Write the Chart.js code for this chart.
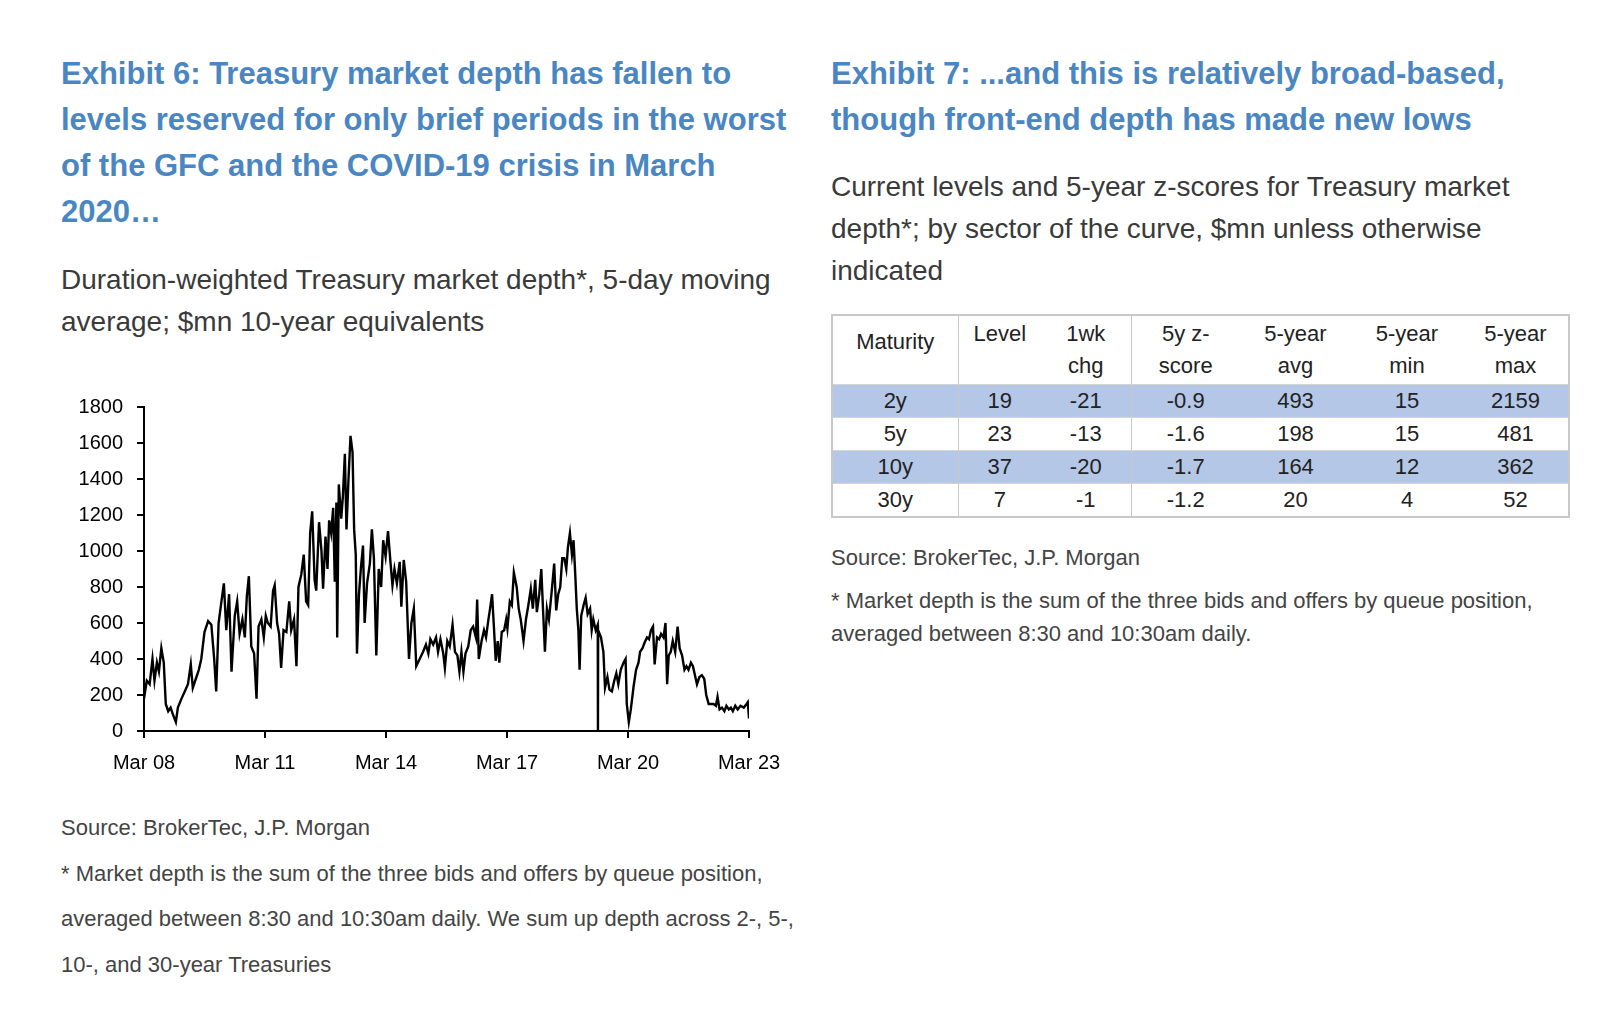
<!DOCTYPE html>
<html>
<head>
<meta charset="utf-8">
<script src="https://cdn.jsdelivr.net/npm/chart.js@4.4.1/dist/chart.umd.min.js"></script>
<style>
  html, body { margin: 0; padding: 0; background: #fff; }
  body { width: 1606px; height: 1018px; position: relative; overflow: hidden;
         font-family: "Liberation Sans", Arial, Helvetica, sans-serif; }
  .abs { position: absolute; white-space: nowrap; }
  .title { color: #4a86c2; font-weight: bold; font-size: 31px; line-height: 46px; }
  .sub { color: #3a3a3a; font-size: 28px; line-height: 42px; }
  .note { color: #444; font-size: 22px; }
  #chartBox { position: absolute; left: 60px; top: 381px; width: 740px; height: 399px; }
  table { position: absolute; left: 831px; top: 314px; width: 737px; border-collapse: collapse;
          border: 2px solid #c8c8c8; font-size: 22px; color: #222; table-layout: fixed; }
  td { text-align: center; padding: 0; height: 32px; line-height: 32px; border-bottom: 1px solid #d4d4d4; }
  thead td { vertical-align: top; height: 66px; padding-top: 2px; line-height: 32px; }
  thead td.mat { padding-top: 10px; height: 58px; }
  .sep { border-right: 1px solid #c8c8c8; }
  tr.hl td { background: #b4c7e7; }
</style>
</head>
<body>
<div class="abs title" style="left:61px; top:51px;">Exhibit 6: Treasury market depth has fallen to<br>levels reserved for only brief periods in the worst<br>of the GFC and the COVID-19 crisis in March<br>2020…</div>
<div class="abs sub" style="left:61px; top:259px;">Duration-weighted Treasury market depth*, 5-day moving<br>average; $mn 10-year equivalents</div>
<div id="chartBox"><canvas id="depth-chart"></canvas></div>
<div class="abs note" style="left:61px; top:805px; line-height:45.5px;">Source: BrokerTec, J.P. Morgan<br>* Market depth is the sum of the three bids and offers by queue position,<br>averaged between 8:30 and 10:30am daily. We sum up depth across 2-, 5-,<br>10-, and 30-year Treasuries</div>

<div class="abs title" style="left:831px; top:51px;">Exhibit 7: ...and this is relatively broad-based,<br>though front-end depth has made new lows</div>
<div class="abs sub" style="left:831px; top:166px;">Current levels and 5-year z-scores for Treasury market<br>depth*; by sector of the curve, $mn unless otherwise<br>indicated</div>
<table id="depth-table">
  <colgroup>
    <col style="width:126px"><col style="width:83px"><col style="width:90px"><col style="width:109px">
    <col style="width:111px"><col style="width:112px"><col style="width:106px">
  </colgroup>
  <thead><tr id="head-row"></tr></thead>
  <tbody id="table-body"></tbody>
</table>
<div class="abs note" style="left:831px; top:536px; line-height:44px;">Source: BrokerTec, J.P. Morgan</div>
<div class="abs note" style="left:831px; top:585px; line-height:32.5px;">* Market depth is the sum of the three bids and offers by queue position,<br>averaged between 8:30 and 10:30am daily.</div>

<script>
// Exhibit 6: duration-weighted depth, days after Mar 08 and $mn values
const dayOffsets = [
  0.00,0.07,0.14,0.21,0.26,0.32,0.37,0.43,0.49,0.54,
  0.60,0.66,0.72,0.79,0.84,0.93,1.01,1.09,1.16,1.21,
  1.30,1.36,1.42,1.50,1.59,1.67,1.74,1.79,1.85,1.92,
  1.98,2.04,2.11,2.17,2.25,2.31,2.37,2.44,2.50,2.55,
  2.60,2.66,2.73,2.79,2.84,2.91,2.97,3.02,3.07,3.14,
  3.20,3.24,3.30,3.35,3.40,3.46,3.53,3.60,3.65,3.72,
  3.78,3.83,3.90,3.96,4.02,4.07,4.12,4.17,4.23,4.27,
  4.34,4.40,4.44,4.50,4.55,4.59,4.64,4.69,4.73,4.77,
  4.79,4.83,4.89,4.93,4.98,5.02,5.07,5.12,5.17,5.21,
  5.25,5.28,5.33,5.38,5.43,5.47,5.53,5.60,5.65,5.70,
  5.76,5.82,5.88,5.93,5.99,6.05,6.11,6.16,6.21,6.27,
  6.34,6.38,6.44,6.50,6.57,6.63,6.69,6.75,
  6.92,6.99,7.05,7.10,7.17,7.24,7.29,7.35,7.42,7.46,
  7.52,7.58,7.65,7.71,7.77,7.82,7.87,7.92,7.97,8.04,
  8.10,8.16,8.23,8.26,8.30,8.37,8.43,8.48,8.54,8.58,
  8.63,8.68,8.72,8.77,8.81,8.87,8.93,8.98,9.01,9.07,
  9.12,9.17,9.24,9.29,9.34,9.41,9.47,9.53,9.59,9.64,
  9.70,9.74,9.80,9.85,9.90,9.94,9.99,10.04,10.11,10.17,
  10.22,10.27,10.32,10.37,10.42,10.47,10.51,10.56,10.61,10.65,
  10.69,10.73,10.77,10.80,10.84,10.90,10.95,11.00,11.06,11.10,
  11.14,11.20,11.25,11.255,11.26,11.33,11.39,11.43,11.49,11.54,
  11.60,11.66,11.71,11.76,11.82,11.89,11.94,11.97,12.02,12.07,
  12.14,12.20,12.26,12.30,12.36,12.41,12.47,12.52,12.57,12.62,
  12.66,12.72,12.77,12.82,12.88,12.93,12.97,13.01,13.06,13.11,
  13.17,13.23,13.28,13.34,13.40,13.45,13.50,13.56,13.61,13.66,
  13.71,13.77,13.83,13.89,13.94,14.00,14.06,14.12,14.18,14.22,
  14.27,14.33,14.39,14.44,14.50,14.55,14.60,14.66,14.72,14.79,
  14.87,14.94,14.97,15.00
];
const depthMn = [
  180,280,260,400,280,380,330,460,380,150,
  110,130,90,50,130,180,220,260,370,240,
  300,340,400,550,610,590,400,220,600,720,
  820,560,760,330,640,720,540,620,520,750,
  860,470,430,180,580,620,520,640,600,580,
  780,810,600,540,350,560,550,720,560,620,
  360,800,870,980,720,700,1100,1220,840,780,
  1160,1000,790,1080,900,1170,1100,1240,830,1270,
  520,1370,1180,1300,1540,1120,1400,1640,1550,1120,
  980,430,760,910,1030,600,820,930,1120,960,
  420,900,800,1060,970,1110,940,810,900,820,
  940,690,950,830,400,600,680,360,
  440,480,430,510,480,520,440,510,430,350,
  500,470,590,440,420,330,440,330,430,470,
  560,580,520,730,400,500,560,520,620,680,
  760,560,390,500,380,550,560,620,570,720,
  700,880,800,680,620,500,620,700,790,680,
  840,660,760,900,640,440,680,620,780,930,
  670,760,800,960,960,900,1020,1100,980,1060,
  880,680,560,340,640,700,740,650,680,560,
  620,560,590,0,560,520,440,240,300,230,
  220,280,320,260,340,380,400,150,50,120,
  250,340,380,440,460,490,520,510,560,580,
  370,520,510,540,520,600,260,420,440,500,
  440,580,460,420,340,360,340,380,360,310,
  260,300,310,290,200,150,150,150,140,190,
  120,130,110,140,120,130,110,140,120,140,
  130,150,160,70
];
const xTickDays = [0, 3, 6, 9, 12, 15];
const xTickLabels = ['Mar 08', 'Mar 11', 'Mar 14', 'Mar 17', 'Mar 20', 'Mar 23'];
const yMax = 1800, yStep = 200;

// Exhibit 7 table
const tableHeader = ['Maturity', 'Level', '1wk<br>chg', '5y z-<br>score', '5-year<br>avg', '5-year<br>min', '5-year<br>max'];
const maturities = ['2y', '5y', '10y', '30y'];
const levels = [19, 23, 37, 7];
const weekChg = [-21, -13, -20, -1];
const zScores = ['-0.9', '-1.6', '-1.7', '-1.2'];
const avg5y = [493, 198, 164, 20];
const min5y = [15, 15, 12, 4];
const max5y = [2159, 481, 362, 52];

(() => {
  const sepCols = [0, 2];
  document.getElementById('head-row').innerHTML = tableHeader.map((h, i) =>
    `<td class="${i === 0 ? 'mat ' : ''}${sepCols.includes(i) ? 'sep' : ''}">${h}</td>`).join('');
  document.getElementById('table-body').innerHTML = maturities.map((m, r) => {
    const cells = [m, levels[r], weekChg[r], zScores[r], avg5y[r], min5y[r], max5y[r]];
    return `<tr class="${r % 2 === 0 ? 'hl' : ''}">` +
      cells.map((c, i) => `<td class="${sepCols.includes(i) ? 'sep' : ''}">${c}</td>`).join('') + '</tr>';
  }).join('');

  const font = { family: '"Liberation Sans", Arial, sans-serif', size: 20 };
  const axisGrid = { display: true, drawOnChartArea: false, drawTicks: true, tickLength: 7, color: '#000', lineWidth: 2 };
  new Chart(document.getElementById('depth-chart'), {
    type: 'line',
    data: {
      datasets: [{
        data: dayOffsets.map((d, i) => ({ x: d, y: depthMn[i] })),
        borderColor: '#000', borderWidth: 2.4, pointRadius: 0, tension: 0, fill: false
      }]
    },
    options: {
      animation: false, responsive: true, maintainAspectRatio: false,
      layout: { padding: { top: 12, right: 51, left: 0, bottom: 0 } },
      plugins: { legend: { display: false }, tooltip: { enabled: false } },
      scales: {
        x: {
          type: 'linear', min: 0, max: 15,
          afterBuildTicks: s => { s.ticks = xTickDays.map(v => ({ value: v })); },
          ticks: { color: '#000', font, padding: 13, maxRotation: 0,
                   callback: v => xTickLabels[xTickDays.indexOf(v)] },
          grid: axisGrid, border: { color: '#000', width: 2 },
          afterFit: s => { s.height = 49; }
        },
        y: {
          min: 0, max: yMax,
          ticks: { stepSize: yStep, color: '#000', font, padding: 14, callback: v => String(v) },
          grid: axisGrid, border: { color: '#000', width: 2 },
          afterFit: s => { s.width = 84; }
        }
      }
    }
  });
})();
</script>
</body>
</html>
